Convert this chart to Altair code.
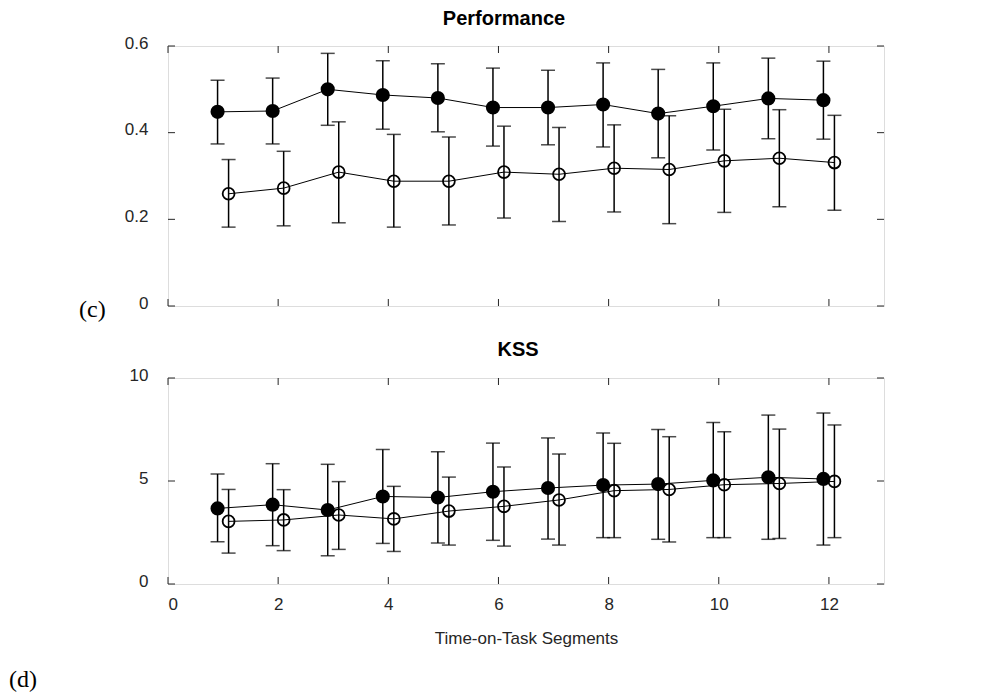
import altair as alt
import pandas as pd

# ---------------- data ----------------
segments = list(range(1, 13))

perf_filled_mean = [0.448, 0.450, 0.500, 0.487, 0.480, 0.458, 0.458, 0.465, 0.444, 0.461, 0.479, 0.475]
perf_filled_lo = [0.374, 0.374, 0.417, 0.408, 0.402, 0.369, 0.372, 0.367, 0.342, 0.360, 0.386, 0.385]
perf_filled_hi = [0.521, 0.526, 0.583, 0.566, 0.559, 0.549, 0.544, 0.561, 0.546, 0.561, 0.572, 0.565]
perf_open_mean = [0.259, 0.272, 0.309, 0.288, 0.288, 0.309, 0.304, 0.318, 0.315, 0.335, 0.341, 0.331]
perf_open_lo = [0.182, 0.185, 0.192, 0.182, 0.187, 0.203, 0.195, 0.217, 0.190, 0.216, 0.229, 0.221]
perf_open_hi = [0.338, 0.357, 0.425, 0.396, 0.390, 0.415, 0.412, 0.418, 0.439, 0.454, 0.453, 0.440]

kss_filled_mean = [3.67, 3.85, 3.59, 4.25, 4.20, 4.48, 4.66, 4.80, 4.85, 5.03, 5.18, 5.10]
kss_filled_lo = [2.05, 1.86, 1.37, 1.97, 1.99, 2.12, 2.18, 2.25, 2.17, 2.25, 2.17, 1.89]
kss_filled_hi = [5.34, 5.84, 5.81, 6.53, 6.42, 6.84, 7.09, 7.33, 7.50, 7.84, 8.20, 8.30]
kss_open_mean = [3.04, 3.11, 3.35, 3.16, 3.54, 3.77, 4.08, 4.53, 4.59, 4.82, 4.88, 4.98]
kss_open_lo = [1.50, 1.62, 1.68, 1.58, 1.89, 1.84, 1.89, 2.25, 2.04, 2.25, 2.21, 2.25]
kss_open_hi = [4.59, 4.58, 4.97, 4.74, 5.19, 5.68, 6.31, 6.83, 7.15, 7.39, 7.52, 7.72]

x_ticks = [0, 2, 4, 6, 8, 10, 12]
perf_y_ticks = [0, 0.2, 0.4, 0.6]
kss_y_ticks = [0, 5, 10]

# ---------------- styling ----------------
W = 716
H_TOP = 260
H_BOT = 206
SANS = "Liberation Sans"
SERIF = "Liberation Serif"
AX = "#262626"
TICK_LEN = 7
DX = 0.1  # horizontal dodge of the two groups


def make_df(fm, flo, fhi, om, olo, ohi):
    rows = []
    for i, s in enumerate(segments):
        rows.append(dict(x=s - DX, mean=fm[i], lo=flo[i], hi=fhi[i], grp="filled"))
    for i, s in enumerate(segments):
        rows.append(dict(x=s + DX, mean=om[i], lo=olo[i], hi=ohi[i], grp="open"))
    return pd.DataFrame(rows)


def panel(df, ymax, yticks, title, title_dx, title_offset, H, show_x_labels,
          label_text, label_x, label_y):
    xscale = alt.Scale(domain=[0, 13], nice=False, zero=False)
    yscale = alt.Scale(domain=[0, ymax], nice=False)
    if show_x_labels:
        xaxis = alt.Axis(values=x_ticks, ticks=False, domain=False, labelPadding=12,
                         labelFontSize=17, labelFont=SANS, labelColor=AX,
                         title="Time-on-Task Segments", titleFont=SANS, titleFontSize=17,
                         titleFontWeight="normal", titleColor=AX, titlePadding=18, grid=False)
    else:
        xaxis = alt.Axis(values=x_ticks, ticks=False, domain=False, labels=False,
                         title=None, grid=False)
    yaxis = alt.Axis(values=yticks, ticks=False, domain=False, labelPadding=20,
                     labelFontSize=17, labelFont=SANS, labelColor=AX, labelOffset=-3,
                     labelExpr="datum.value == 0 ? '0' : (datum.value < 1 ? format(datum.value, '.1f') : format(datum.value, 'd'))",
                     title=None, grid=False, minExtent=150)

    def X(field):
        return alt.X(field, scale=xscale, axis=xaxis)

    def Y(field):
        return alt.Y(field, scale=yscale, axis=yaxis)

    base = alt.Chart(df)

    line = base.mark_line(color="black", strokeWidth=1).encode(
        x=X("x:Q"), y=Y("mean:Q"), detail="grp:N")
    bars = base.mark_rule(color="black", strokeWidth=1.5).encode(
        x=X("x:Q"), y=Y("lo:Q"), y2="hi:Q")
    cap_lo = base.mark_tick(color="black", orient="horizontal", size=14, thickness=1.5).encode(
        x=X("x:Q"), y=Y("lo:Q"))
    cap_hi = base.mark_tick(color="black", orient="horizontal", size=14, thickness=1.5).encode(
        x=X("x:Q"), y=Y("hi:Q"))
    pts_f = base.transform_filter(alt.datum.grp == "filled").mark_point(
        filled=True, color="black", size=200, opacity=1, shape="circle").encode(
        x=X("x:Q"), y=Y("mean:Q"))
    pts_o = base.transform_filter(alt.datum.grp == "open").mark_point(
        filled=False, color="black", size=140, strokeWidth=1.8, opacity=1, shape="circle").encode(
        x=X("x:Q"), y=Y("mean:Q"))

    xt = alt.Chart(pd.DataFrame({"x": x_ticks}))
    yt = alt.Chart(pd.DataFrame({"mean": yticks}))
    tick_style = dict(color=AX, strokeWidth=1)
    xt_bot = xt.mark_rule(**tick_style).encode(
        x=X("x:Q"), y=alt.value(H), y2=alt.value(H - TICK_LEN))
    xt_top = xt.mark_rule(**tick_style).encode(
        x=X("x:Q"), y=alt.value(0), y2=alt.value(TICK_LEN))
    yt_left = yt.mark_rule(**tick_style).encode(
        y=Y("mean:Q"), x=alt.value(0), x2=alt.value(TICK_LEN))
    yt_right = yt.mark_rule(**tick_style).encode(
        y=Y("mean:Q"), x=alt.value(W), x2=alt.value(W - TICK_LEN))

    lab = alt.Chart(pd.DataFrame({"t": [label_text]})).mark_text(
        font=SERIF, fontSize=24, color="black", align="left", baseline="alphabetic").encode(
        text="t:N", x=alt.value(label_x), y=alt.value(label_y))

    return alt.layer(line, bars, cap_lo, cap_hi, pts_f, pts_o,
                     xt_bot, xt_top, yt_left, yt_right, lab).properties(
        width=W, height=H,
        title=alt.TitleParams(title, fontSize=20, fontWeight="bold", font=SANS,
                              color="black", offset=title_offset, dx=title_dx))


perf_df = make_df(perf_filled_mean, perf_filled_lo, perf_filled_hi,
                  perf_open_mean, perf_open_lo, perf_open_hi)
kss_df = make_df(kss_filled_mean, kss_filled_lo, kss_filled_hi,
                 kss_open_mean, kss_open_lo, kss_open_hi)

top = panel(perf_df, 0.6, perf_y_ticks, "Performance", -22, 5, H_TOP, False,
            "(c)", -89, H_TOP + 11)
bot = panel(kss_df, 10, kss_y_ticks, "KSS", -8, 6, H_BOT, True,
            "(d)", -159, H_BOT + 103)

chart = alt.vconcat(top, bot, spacing=16).properties(padding=0).configure_view(
    stroke=AX, strokeWidth=1).configure(background="white")

chart.save("out.html", embed_options={"renderer": "svg", "actions": False})
